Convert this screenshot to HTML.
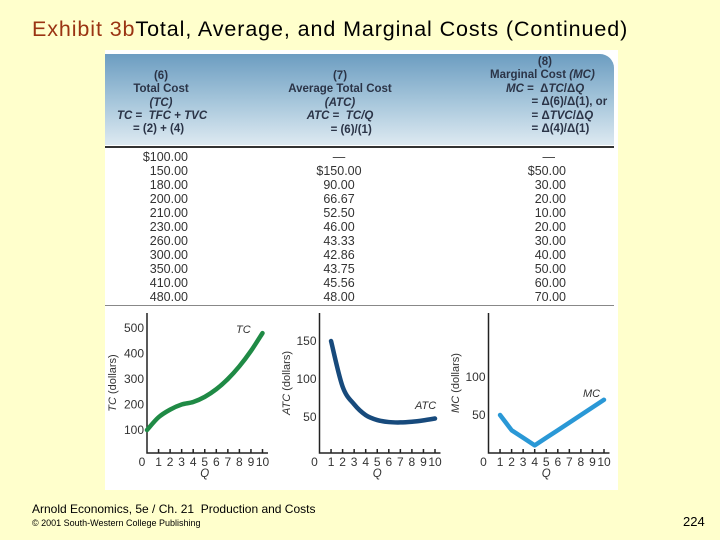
<!DOCTYPE html>
<html><head><meta charset="utf-8"><style>
body{margin:0;width:720px;height:540px;background:#ffffcc;position:relative;overflow:hidden;font-family:"Liberation Sans",sans-serif}
.abs{position:absolute}
#title{left:32px;top:17px;font-size:21.5px;letter-spacing:0.9px;white-space:nowrap;color:#000}
#panel{left:105px;top:50px;width:513px;height:440px;background:#fff}
#hdr{left:105px;top:54px;width:509px;height:91px;background:linear-gradient(#6c9dc1,#a9c8dc 55%,#dde9f1);border-top-right-radius:14px}
.h{font-size:11.5px;font-weight:bold;color:#2b3447;line-height:13.4px;white-space:nowrap}
.c{font-size:12.5px;color:#333;line-height:14px;white-space:pre}
.foot{font-size:12px;color:#000;white-space:nowrap}
</style></head><body>
<div id="title" class="abs"><span style="color:#9a3412">Exhibit 3b</span>Total, Average, and Marginal Costs (Continued)</div>
<div id="panel" class="abs"></div>
<div id="hdr" class="abs"></div>
<div class="abs h" style="left:111px;top:70px;width:100px;text-align:center">(6)<br>Total Cost<br><i>(TC)</i></div>
<div class="abs h" style="left:117px;top:110px"><i>TC</i> = &nbsp;<i>TFC</i> + <i>TVC</i><br>&nbsp;&nbsp;&nbsp;&nbsp;&nbsp;= (2) + (4)</div>
<div class="abs h" style="left:275px;top:70px;width:130px;text-align:center">(7)<br>Average Total Cost<br><i>(ATC)</i><br><i>ATC</i> = &nbsp;<i>TC/Q</i><br>&nbsp;&nbsp;&nbsp;&nbsp;&nbsp;&nbsp;&nbsp;= (6)/(1)</div>
<div class="abs h" style="left:490px;top:56px">&nbsp;&nbsp;&nbsp;&nbsp;&nbsp;&nbsp;&nbsp;&nbsp;&nbsp;&nbsp;&nbsp;&nbsp;&nbsp;&nbsp;&nbsp;(8)<br>Marginal Cost <i>(MC)</i><br>&nbsp;&nbsp;&nbsp;&nbsp;&nbsp;<i>MC</i> = &nbsp;Δ<i>TC</i>/Δ<i>Q</i><br>&nbsp;&nbsp;&nbsp;&nbsp;&nbsp;&nbsp;&nbsp;&nbsp;&nbsp;&nbsp;&nbsp;&nbsp;&nbsp;= Δ(6)/Δ(1), or<br>&nbsp;&nbsp;&nbsp;&nbsp;&nbsp;&nbsp;&nbsp;&nbsp;&nbsp;&nbsp;&nbsp;&nbsp;&nbsp;= Δ<i>TVC</i>/Δ<i>Q</i><br>&nbsp;&nbsp;&nbsp;&nbsp;&nbsp;&nbsp;&nbsp;&nbsp;&nbsp;&nbsp;&nbsp;&nbsp;&nbsp;= Δ(4)/Δ(1)</div>
<div class="abs" style="left:105px;top:146px;width:509px;height:1.5px;background:#333"></div>
<div class="abs c" style="left:110px;top:150px;width:78px;text-align:right">$100.00
150.00
180.00
200.00
210.00
230.00
260.00
300.00
350.00
410.00
480.00</div>
<div class="abs c" style="left:295px;top:150px;width:88px;text-align:center">—
$150.00
90.00
66.67
52.50
46.00
43.33
42.86
43.75
45.56
48.00</div>
<div class="abs c" style="left:495px;top:150px;width:71px;text-align:right"><span style="padding-right:11px">—</span>
$50.00
30.00
20.00
10.00
20.00
30.00
40.00
50.00
60.00
70.00</div>
<div class="abs" style="left:105px;top:305px;width:509px;height:1px;background:#888"></div>
<svg class="abs" style="left:0;top:0" width="720" height="540" id="charts"></svg>
<div class="abs foot" style="left:32px;top:502px">Arnold Economics, 5e / Ch. 21 &nbsp;Production and Costs</div>
<div class="abs foot" style="left:32px;top:518px;font-size:9px">© 2001 South-Western College Publishing</div>
<div class="abs foot" style="left:683px;top:514px;font-size:13px">224</div>
<script>
const qTicks=[0,1,2,3,4,5,6,7,8,9,10];
const tcQ=[0,1,2,3,4,5,6,7,8,9,10];
const tcVals=[100,150,180,200,210,230,260,300,350,410,480];
const atcQ=[1,2,3,4,5,6,7,8,9,10];
const atcVals=[150,90,66.67,52.5,46,43.33,42.86,43.75,45.56,48];
const mcQ=[1,2,3,4,5,6,7,8,9,10];
const mcVals=[50,30,20,10,20,30,40,50,60,70];
const tcTicks=[100,200,300,400,500];
const atcTicks=[50,100,150];
const mcTicks=[50,100];
const NS="http://www.w3.org/2000/svg";
const svg=document.getElementById('charts');
function mk(t,a,p){const e=document.createElementNS(NS,t);for(const k in a)e.setAttribute(k,a[k]);(p||svg).appendChild(e);return e;}
function smooth(pts){let d='M'+pts[0][0]+','+pts[0][1];for(let i=0;i<pts.length-1;i++){const p0=pts[i-1]||pts[i],p1=pts[i],p2=pts[i+1],p3=pts[i+2]||p2;d+=' C'+(p1[0]+(p2[0]-p0[0])/6)+','+(p1[1]+(p2[1]-p0[1])/6)+' '+(p2[0]-(p3[0]-p1[0])/6)+','+(p2[1]-(p3[1]-p1[1])/6)+' '+p2[0]+','+p2[1];}return d;}
function chart(o){
  const g=mk('g',{});
  
  
  const x=q=>o.x0+q*11.55, y=v=>o.base-v*o.k;
  mk('path',{d:'M'+o.x0+','+o.top+' V453 H'+(o.x0+121),stroke:'#222','stroke-width':1.5,fill:'none'},g);
  qTicks.forEach(q=>{
    if(q>0){const t=mk('line',{x1:x(q),x2:x(q),y1:449,y2:453,stroke:'#222','stroke-width':1.5},g);
    }
    const l=mk('text',{x:x(q)-(q==0?5:0),y:466,'text-anchor':'middle','font-size':12,fill:'#333','font-family':'Liberation Sans'},g);
    l.textContent=q;
    
    
  });
  const xl=mk('text',{x:x(5),y:477,'text-anchor':'middle','font-size':11.5,'font-style':'italic',fill:'#333','font-family':'Liberation Sans'},g);
  xl.textContent='Q';
  
  
  o.ticks.forEach(v=>{
    const l=mk('text',{x:o.x0-3,y:y(v)+4,'text-anchor':'end','font-size':12,fill:'#333','font-family':'Liberation Sans'},g);
    l.textContent=v;
    
    
  });
  const yt=mk('text',{transform:'translate('+o.ytx+','+o.yty+') rotate(-90)','text-anchor':'middle','font-size':11,fill:'#333','font-family':'Liberation Sans'},g);
  yt.innerHTML='<tspan font-style="italic">'+o.lab+'</tspan> (dollars)';
  
  
  const pts=o.q.map((q,i)=>[x(q),y(o.v[i])]);
  const ln=mk('path',{d:o.poly?'M'+pts.map(p=>p.join(',')).join(' L'):smooth(pts),stroke:o.color,'stroke-width':4.5,fill:'none','stroke-linecap':'round','stroke-linejoin':'round'},g);
  
  
  const cl=mk('text',{x:o.lx,y:o.ly,'font-size':11,'font-style':'italic',fill:'#333','font-family':'Liberation Sans'},g);
  cl.textContent=o.lab;
  
  
}
chart({name:'tc-chart',x0:147,base:455.5,k:0.255,top:313,ticks:tcTicks,q:tcQ,v:tcVals,color:'#1f8a45',lab:'TC',ytx:116,yty:383,lx:236,ly:333});
chart({name:'atc-chart',x0:319.5,base:455,k:0.76,top:313,ticks:atcTicks,q:atcQ,v:atcVals,color:'#174a7c',lab:'ATC',ytx:290,yty:383,lx:415,ly:409});
chart({name:'mc-chart',x0:488.5,base:453,k:0.76,top:313,ticks:mcTicks,q:mcQ,v:mcVals,color:'#2a98d6',lab:'MC',ytx:459,yty:383,lx:583,ly:397,poly:true});
</script>
</body></html>
